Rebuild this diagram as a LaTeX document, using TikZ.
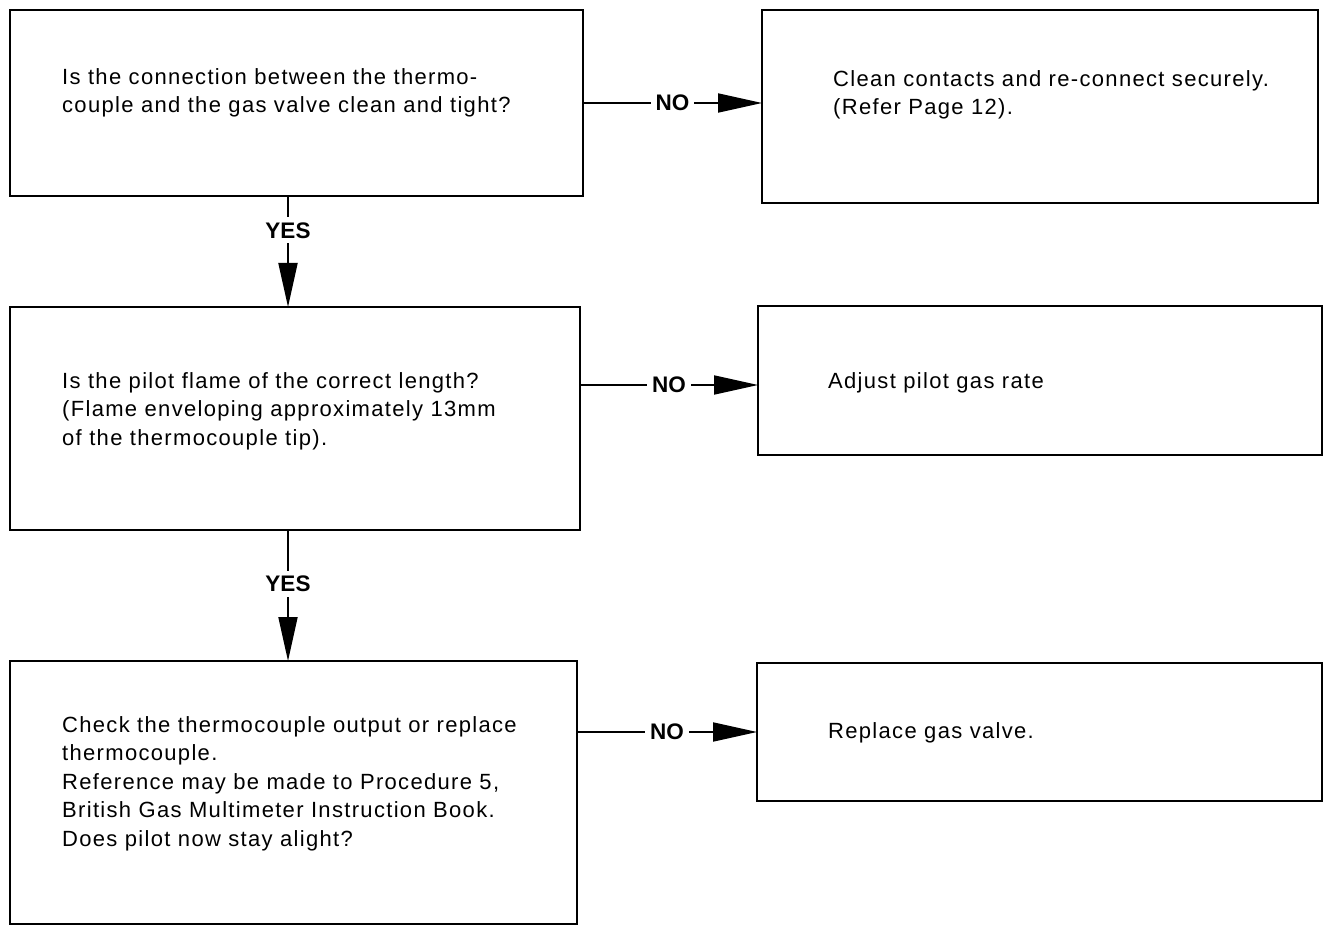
\documentclass[tikz,border=0pt]{standalone}
\usepackage{fontspec}
\setmainfont{Liberation Sans}
\newfontfamily\boxfont{Liberation Sans}[LetterSpace=6.0]
\usepackage{tikz}
\usetikzlibrary{arrows.meta}
\tikzset{
  flowbox/.style={draw=black,line width=2.4pt,inner sep=0pt,outer sep=0pt,anchor=north west},
  flowtext/.style={anchor=north west,inner sep=0pt,align=left,font=\boxfont\fontsize{22}{28.5}\selectfont},
  flowline/.style={line width=1.8pt,-{Triangle[length=44pt,width=19pt]}},
  answer/.style={fill=white,inner xsep=5pt,inner ysep=2pt,font=\bfseries\fontsize{22.5}{24}\selectfont}
}

\begin{document}
\begin{tikzpicture}[x=1pt,y=-1pt]
  \useasboundingbox (0,0) rectangle (1334,925);
  % left column: questions
  \node[flowbox,minimum width=573pt,minimum height=186pt] (q1) at (10,10) {};
  \node[flowbox,minimum width=570pt,minimum height=223pt] (q2) at (10,307) {};
  \node[flowbox,minimum width=567pt,minimum height=263pt] (q3) at (10,661) {};
  % right column: remedies
  \node[flowbox,minimum width=556pt,minimum height=193pt] (a1) at (762,10) {};
  \node[flowbox,minimum width=564pt,minimum height=149pt] (a2) at (758,306) {};
  \node[flowbox,minimum width=565pt,minimum height=138pt] (a3) at (757,663) {};

  \node[flowtext] (q1txt) at (62,68) {Is the connection between the thermo-\\couple and the gas valve clean and tight?};
  \node[flowtext] (q2txt) at (62,372) {Is the pilot flame of the correct length?\\(Flame enveloping approximately 13mm\\of the thermocouple tip).};
  \node[flowtext] (q3txt) at (62,716) {Check the thermocouple output or replace\\thermocouple.\\Reference may be made to Procedure 5,\\British Gas Multimeter Instruction Book.\\Does pilot now stay alight?};
  \node[flowtext] (a1txt) at (833,70) {Clean contacts and re-connect securely.\\(Refer Page 12).};
  \node[flowtext] (a2txt) at (828,372) {Adjust pilot gas rate};
  \node[flowtext] (a3txt) at (828,722) {Replace gas valve.};

  \draw[flowline] (q1.east) -- (q1.east -| a1.west) node[answer,midway] {NO};
  \draw[flowline] (q2.east |- 0,385) -- (a2.west |- 0,385) node[answer,midway] {NO};
  \draw[flowline] (q3.east |- a3.west) -- (a3.west) node[answer,midway] {NO};

  \draw[flowline] ([xshift=278pt]q1.south west) -- ([xshift=278pt]q2.north west) node[answer,pos=0.31,inner xsep=2pt,inner ysep=5pt] {YES};
  \draw[flowline] ([xshift=278pt]q2.south west) -- ([xshift=278pt]q3.north west) node[answer,pos=0.41,inner xsep=2pt,inner ysep=5pt] {YES};
\end{tikzpicture}
\end{document}
